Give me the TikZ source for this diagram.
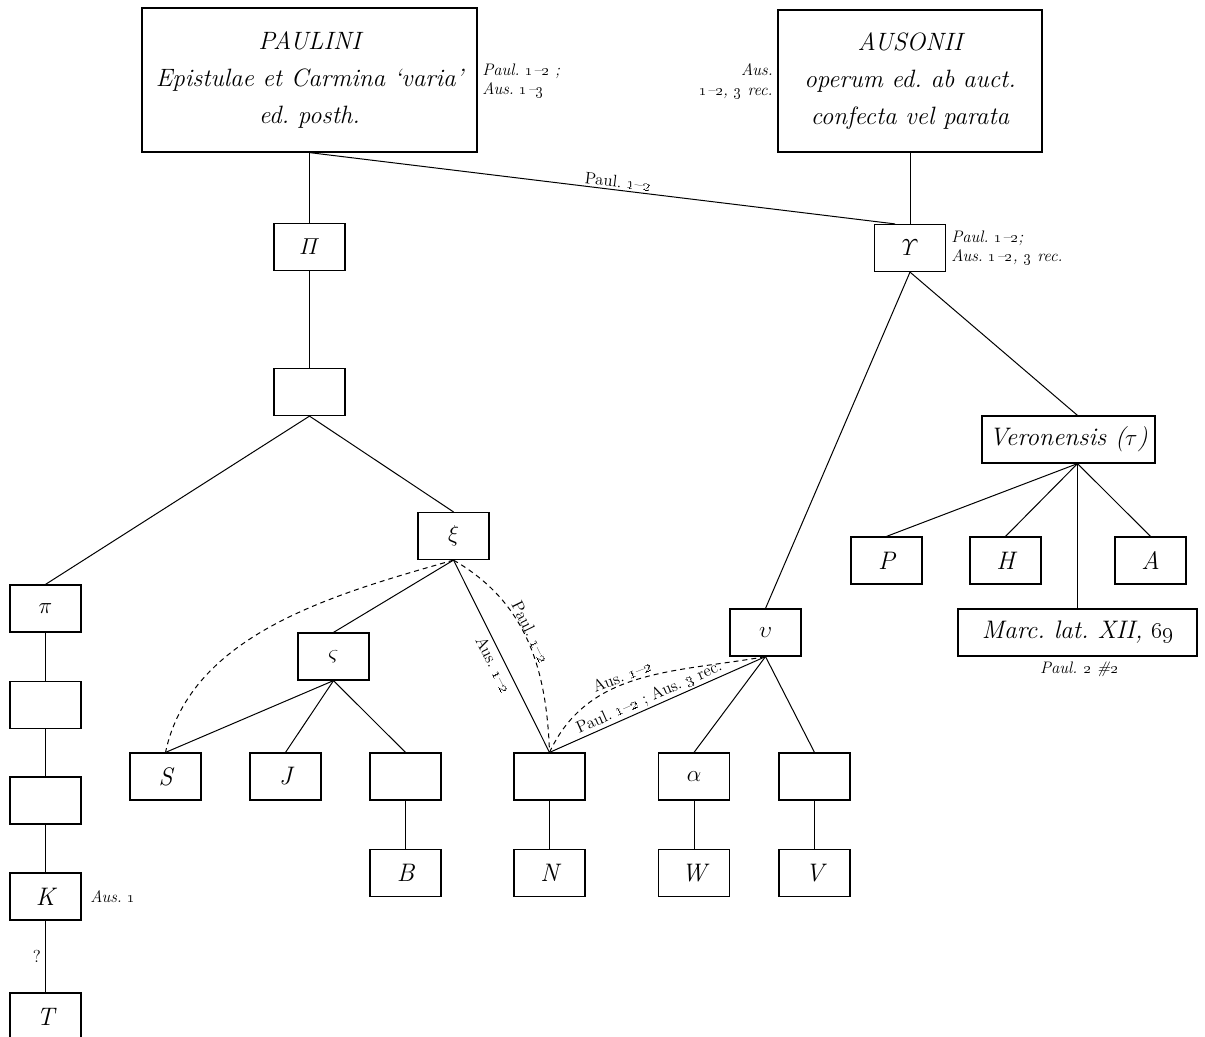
\documentclass[tikz,border=0pt]{standalone}
\usepackage{amsmath}
\newcommand{\rng}[2]{\oldstylenums{#1}\textendash\oldstylenums{#2}}
\begin{document}
\frenchspacing
\begin{tikzpicture}[x=0.75pt,y=0.75pt,
  bx/.style={draw, line width=0.9pt, minimum width=53.25pt, minimum height=35.25pt, inner sep=0pt, font=\fontsize{19}{26}\selectfont\itshape},
  big/.style={bx, align=center, font=\fontsize{18.8}{27.5}\selectfont\itshape},
  ln/.style={line width=0.75pt},
  dsh/.style={line width=0.75pt, dash pattern=on 3.75pt off 3pt},
  ann/.style={font=\fontsize{12.5}{14.5}\selectfont\itshape, inner sep=0pt, align=left},
  el/.style={font=\fontsize{12.5}{14}\selectfont, inner sep=1.5pt}]
\useasboundingbox (0,0) rectangle (1205,-1036);

% top boxes
\node[big, minimum width=251.25pt, minimum height=108pt] (paul) at (309.5,-80) {PAULINI\\Epistulae et Carmina `varia'\\ed. posth.};
\node[big, minimum width=198pt, minimum height=106.5pt] (aus) at (910,-81) {AUSONII\\operum ed. ab auct.\\confecta vel parata};
\node[ann, anchor=west] (apaul) at (482,-81) {Paul. \rng{1}{2} ;\\Aus. \rng{1}{3}};
\node[ann, anchor=east, align=right] (aaus) at (773,-81) {Aus.\\\rng{1}{2}, \oldstylenums{3} rec.};

% left branch
\node[bx] (Pi) at (309.5,-247) {$\varPi$};
\node[bx] (b1) at (309.5,-392) {};
\node[bx] (xi) at (453.5,-536) {$\xi$};
\node[bx] (pi) at (45.5,-608.5) {$\pi$};
\node[bx] (b2) at (45.5,-705) {};
\node[bx] (b3) at (45.5,-800.5) {};
\node[bx] (K) at (45.5,-896.5) {K};
\node[bx] (T) at (45.5,-1016.5) {T};
\node[ann, anchor=west] (aK) at (90,-897) {Aus. \oldstylenums{1}};
\node[bx] (sig) at (333.5,-656.5) {$\varsigma$};
\node[bx] (S) at (165.5,-776.5) {S};
\node[bx] (J) at (285.5,-776.5) {J};
\node[bx] (b4) at (405.5,-776.5) {};
\node[bx] (B) at (405.5,-873) {B};
\node[bx] (b5) at (549.5,-776.5) {};
\node[bx] (N) at (549.5,-873) {N};
\node[bx] (al) at (694,-776.5) {$\alpha$};
\node[bx] (W) at (694,-873) {W};
\node[bx] (b6) at (814.5,-776.5) {};
\node[bx] (V) at (814.5,-873) {V};
\node[bx] (ups) at (765.5,-632.5) {$\upsilon$};

% right branch
\node[bx] (Ups) at (910,-248) {$\varUpsilon$};
\node[ann, anchor=west] (aUps) at (951,-248) {Paul. \rng{1}{2};\\Aus. \rng{1}{2}, \oldstylenums{3} rec.};
\node[bx, minimum width=129.75pt] (ver) at (1068.5,-439.5) {Veronensis ($\tau$)};
\node[bx] (P) at (886.5,-560.5) {P};
\node[bx] (H) at (1005.5,-560.5) {H};
\node[bx] (A) at (1150.5,-560.5) {A};
\node[bx, minimum width=179.25pt] (marc) at (1077.5,-632.5) {Marc. lat. XII, \oldstylenums{69}};
\node[ann, anchor=center] (amarc) at (1079,-669) {Paul. \oldstylenums{2} \#\oldstylenums{2}};

\coordinate (yt) at ([xshift=-11.25pt]Ups.north);
\coordinate (vt) at ([xshift=6.75pt]ver.north);
\coordinate (vb) at ([xshift=6.75pt]ver.south);

% connectors
\draw[ln] (paul.south) -- (Pi.north);
\draw[ln] (paul.south) -- node[el, above, sloped, pos=0.525] {Paul. \rng{1}{2}} (yt);
\draw[ln] (aus.south) -- (Ups.north);
\draw[ln] (Pi) -- (b1);
\draw[ln] (b1.south) -- (pi.north);
\draw[ln] (b1.south) -- (xi.north);
\draw[ln] (pi) -- (b2);
\draw[ln] (b2) -- (b3);
\draw[ln] (b3) -- (K);
\draw[ln] (K) -- node[left, font=\fontsize{13}{15}\selectfont, inner sep=3pt] {?} (T);
\draw[ln] (xi.south) -- (sig.north);
\draw[ln] (xi.south) -- node[el, below, sloped, pos=0.52, inner sep=3pt] {Aus. \rng{1}{2}} (b5.north);
\draw[dsh] (xi.south) to[out=196, in=78, looseness=0.9] (S.north);
\draw[dsh] (xi.south) to[out=-30, in=92] node[el, above, sloped, pos=0.47, inner sep=0pt] {Paul. \rng{1}{2}} (b5.north);
\draw[ln] (sig.south) -- (S.north);
\draw[ln] (sig.south) -- (J.north);
\draw[ln] (sig.south) -- (b4.north);
\draw[ln] (b4) -- (B);
\draw[ln] (b5) -- (N);
\draw[ln] (al) -- (W);
\draw[ln] (b6) -- (V);
\draw[ln] (Ups.south) -- (ups.north);
\draw[ln] (Ups.south) -- (vt);
\draw[ln] (vb) -- (P.north);
\draw[ln] (vb) -- (H.north);
\draw[ln] (vb) -- (A.north);
\draw[ln] (vb) -- (marc.north);
\draw[ln] (ups.south) -- (al.north);
\draw[ln] (ups.south) -- (b6.north);
\draw[ln] (b5.north) -- node[el, above, sloped, pos=0.48, inner sep=1pt] {Paul. \rng{1}{2} ; Aus. \oldstylenums{3} rec.} (ups.south);
\draw[dsh] (b5.north) to[out=65, in=190] node[el, above, sloped, pos=0.44, inner sep=1pt] {Aus. \rng{1}{2}} (ups.south);
\end{tikzpicture}
\end{document}
